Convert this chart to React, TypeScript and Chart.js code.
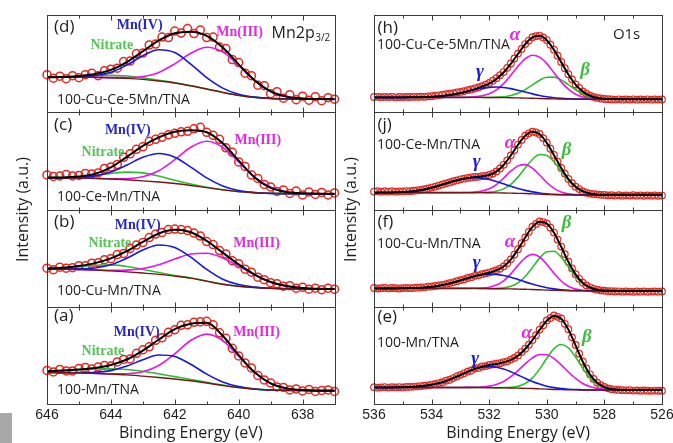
import React, { useEffect, useRef } from "react";
import { Chart, registerables } from "chart.js";

Chart.register(...registerables);

// ---------- axes / sampling ----------
const MN_TICKS = [646, 644, 642, 640, 638];
const O_TICKS = [536, 534, 532, 530, 528, 526];

const MN_E = [646, 645.5, 645, 644.5, 644, 643.5, 643, 642.5, 642, 641.5, 641, 640.5, 640, 639.5, 639, 638.5, 638, 637.5, 637];
const MN_PTS_E = [646, 645.8, 645.6, 645.4, 645.2, 645, 644.8, 644.6, 644.4, 644.2, 644, 643.8, 643.6, 643.4, 643.2, 643, 642.8, 642.6, 642.4, 642.2, 642, 641.8, 641.6, 641.4, 641.2, 641, 640.8, 640.6, 640.4, 640.2, 640, 639.8, 639.6, 639.4, 639.2, 639, 638.8, 638.6, 638.4, 638.2, 638, 637.8, 637.6, 637.4, 637.2, 637];
const O_E = [536, 535.75, 535.5, 535.25, 535, 534.75, 534.5, 534.25, 534, 533.75, 533.5, 533.25, 533, 532.75, 532.5, 532.25, 532, 531.75, 531.5, 531.25, 531, 530.75, 530.5, 530.25, 530, 529.75, 529.5, 529.25, 529, 528.75, 528.5, 528.25, 528, 527.75, 527.5, 527.25, 527, 526.75, 526.5, 526.25, 526];
const O_PTS_E = [536, 535.875, 535.75, 535.625, 535.5, 535.375, 535.25, 535.125, 535, 534.875, 534.75, 534.625, 534.5, 534.375, 534.25, 534.125, 534, 533.875, 533.75, 533.625, 533.5, 533.375, 533.25, 533.125, 533, 532.875, 532.75, 532.625, 532.5, 532.375, 532.25, 532.125, 532, 531.875, 531.75, 531.625, 531.5, 531.375, 531.25, 531.125, 531, 530.875, 530.75, 530.625, 530.5, 530.375, 530.25, 530.125, 530, 529.875, 529.75, 529.625, 529.5, 529.375, 529.25, 529.125, 529, 528.875, 528.75, 528.625, 528.5, 528.375, 528.25, 528.125, 528, 527.875, 527.75, 527.625, 527.5, 527.375, 527.25, 527.125, 527, 526.875, 526.75, 526.625, 526.5, 526.375, 526.25, 526.125, 526];

// ---------- Mn2p3/2 : (a) 100-Mn/TNA ----------
const A_PTS = [33.5, 32.0, 34.5, 33.0, 33.0, 35.5, 36.5, 35.0, 37.0, 38.5, 38.0, 42.0, 44.5, 45.0, 50.5, 54.0, 57.0, 63.5, 66.0, 71.5, 74.0, 78.5, 79.0, 81.5, 82.0, 82.5, 79.0, 71.0, 65.5, 55.5, 48.0, 41.0, 36.0, 28.5, 24.0, 21.0, 17.0, 16.5, 14.0, 15.0, 13.0, 14.5, 12.5, 13.5, 14.0, 12.5];
const A_FIT = [32.6, 33.4, 34.5, 36.0, 38.9, 44.4, 53.3, 64.3, 74.7, 80.0, 81.0, 68.0, 48.7, 31.6, 20.6, 15.6, 13.9, 13.3, 13.3];
const A_BG = [31.5, 31.3, 31, 30.5, 29.8, 29, 27.8, 26.5, 25, 23.2, 21, 18.5, 16.3, 14.8, 14, 13.6, 13.4, 13.3, 13.3];
const A_MN4 = [31.5, 31.3, 31.2, 31.5, 33.3, 37.8, 44.2, 48.8, 47.3, 39.6, 29.8, 22.0, 17.3, 15.0, 14, 13.6, 13.4, 13.3, 13.3];
const A_MN3 = [31.5, 31.3, 31, 30.5, 30.0, 30.2, 32.1, 38.4, 50.1, 63.3, 69.7, 63.3, 47.6, 31.4, 20.6, 15.6, 13.9, 13.3, 13.3];
const A_NIT = [32.6, 33.4, 34.3, 35.0, 35.2, 34.4, 32.6, 30.1, 27.3, 24.5, 21.6, 18.8, 16.4, 14.8, 14, 13.6, 13.4, 13.3, 13.3];

// ---------- (b) 100-Cu-Mn/TNA ----------
const B_PTS = [38.5, 37.0, 39.5, 38.5, 39.0, 41.0, 41.0, 43.5, 44.0, 47.0, 48.0, 52.0, 53.0, 58.0, 61.5, 64.0, 69.0, 72.5, 74.0, 77.0, 77.5, 77.0, 76.0, 73.5, 70.5, 65.0, 62.0, 56.0, 52.5, 46.0, 43.0, 37.5, 34.5, 29.5, 27.0, 24.0, 23.0, 20.5, 21.0, 18.5, 19.5, 17.5, 18.5, 17.0, 18.5, 17.5];
const B_FIT = [38.1, 38.8, 40.6, 43.5, 48.3, 55.4, 64.6, 73.1, 76.7, 74.3, 65.7, 54.0, 42.2, 32.1, 24.7, 20.6, 18.7, 17.9, 17.7];
const B_BG = [37.7, 37.5, 37.2, 36.6, 35.8, 34.8, 33.6, 32.3, 30.6, 28.5, 25.5, 22.5, 20.5, 19.2, 18.4, 18, 17.8, 17.7, 17.7];
const B_MN4 = [37.7, 37.6, 37.8, 38.6, 41.8, 48.3, 56.5, 61.6, 59.1, 49.5, 37.3, 27.5, 22.1, 19.6, 18.4, 18, 17.8, 17.7, 17.7];
const B_MN3 = [37.7, 37.5, 37.2, 36.7, 36.3, 36.5, 38.1, 42.0, 47.6, 52.6, 53.4, 48.7, 40.5, 31.7, 24.7, 20.6, 18.7, 17.9, 17.7];
const B_NIT = [38.1, 38.7, 40.0, 41.4, 41.8, 40.2, 37.2, 34.1, 31.2, 28.7, 25.5, 22.5, 20.5, 19.2, 18.4, 18, 17.8, 17.7, 17.7];

// ---------- (c) 100-Ce-Mn/TNA ----------
const C_PTS = [34.5, 33.0, 33.5, 35.0, 33.5, 34.0, 36.0, 35.5, 36.5, 41.0, 42.5, 45.0, 52.0, 55.5, 60.0, 62.5, 68.0, 70.0, 72.0, 74.5, 76.0, 77.5, 78.0, 80.5, 82.0, 77.0, 74.0, 70.0, 61.5, 57.0, 47.5, 43.0, 34.5, 31.0, 25.0, 22.5, 18.0, 19.5, 16.0, 18.5, 14.5, 17.5, 15.0, 17.0, 14.5, 16.5];
const C_FIT = [31.8, 32.0, 33.0, 35.5, 42.0, 52.5, 63.5, 72.0, 77.5, 79.0, 77.0, 66.0, 48.7, 32.0, 21.5, 17.5, 16.1, 15.8, 15.7];
const C_BG = [31.7, 31.6, 31.4, 31.0, 30.4, 29.6, 28.6, 27.4, 25.9, 24.0, 21.8, 19.6, 17.8, 16.7, 16.1, 15.8, 15.7, 15.7, 15.7];
const C_MN4 = [31.7, 31.7, 32.1, 33.5, 37.3, 44.3, 52.1, 55.9, 52.2, 42.3, 31.5, 23.5, 19.0, 17.0, 16.1, 15.8, 15.7, 15.7, 15.7];
const C_MN3 = [31.7, 31.6, 31.4, 31.0, 30.6, 30.7, 32.6, 38.7, 49.7, 62.1, 68.0, 62.1, 47.5, 32.4, 22.4, 17.7, 16.1, 15.7, 15.7];
const C_NIT = [31.8, 31.9, 32.5, 33.9, 35.9, 37.3, 36.5, 33.4, 29.2, 25.4, 22.2, 19.7, 17.8, 16.7, 16.1, 15.8, 15.7, 15.7, 15.7];

// ---------- (d) 100-Cu-Ce-5Mn/TNA ----------
const D_PTS = [37.5, 34.0, 36.0, 33.5, 36.5, 34.5, 37.5, 39.0, 36.5, 41.5, 43.0, 44.0, 50.5, 51.0, 58.5, 59.0, 67.0, 68.0, 75.0, 74.5, 81.0, 79.0, 83.5, 78.5, 82.0, 74.5, 75.0, 65.0, 63.5, 52.5, 49.5, 39.0, 36.5, 27.0, 26.5, 18.5, 20.5, 14.0, 17.5, 12.5, 16.0, 12.0, 15.5, 11.5, 14.5, 13.0];
const D_FIT = [35, 35.1, 36.2, 38.1, 42.3, 50.1, 60.8, 71.6, 78.8, 80.4, 76.1, 64.5, 47.8, 31.8, 20.9, 15.6, 13.7, 13.1, 13];
const D_BG = [35, 35, 35, 34.8, 34.4, 33.8, 32.8, 31.2, 29.2, 26.4, 23.2, 19.8, 16.8, 14.8, 13.8, 13.3, 13.1, 13.0, 13.0];
const D_MN4 = [35, 35, 35.4, 36.4, 39.8, 47.0, 56.4, 62.4, 59.5, 48.0, 34.5, 24.1, 18.0, 15.1, 13.8, 13.3, 13.1, 13, 13];
const D_MN3 = [35, 35, 35, 34.8, 34.5, 34.6, 35.7, 39.7, 48.3, 58.8, 64.8, 60.2, 46.6, 31.5, 20.9, 15.6, 13.7, 13.1, 13];
const D_NIT = [35, 35.1, 35.8, 36.5, 36.8, 36.1, 34.3, 31.9, 29.4, 26.4, 23.2, 19.8, 16.8, 14.8, 13.8, 13.3, 13.1, 13.0, 13.0];

// ---------- O1s : (e) 100-Mn/TNA ----------
const E_PTS = [16.8, 16.3, 16.6, 16.9, 16.4, 16.7, 16.6, 16.9, 16.5, 17.0, 17.0, 17.4, 17.6, 17.9, 18.3, 18.5, 19.4, 20.0, 20.9, 21.7, 23.3, 24.2, 25.9, 27.5, 29.1, 30.6, 32.3, 33.4, 35.3, 36.0, 37.4, 37.8, 38.9, 39.5, 40.2, 40.7, 41.8, 42.6, 44.3, 46.0, 48.5, 51.8, 55.2, 59.2, 63.9, 68.6, 74.2, 78.6, 83.4, 85.8, 88.3, 87.0, 85.4, 80.0, 74.6, 66.5, 58.9, 50.2, 42.5, 35.5, 29.6, 25.0, 21.3, 18.8, 17.0, 15.6, 14.8, 14.4, 14.0, 13.8, 13.6, 13.9, 13.4, 13.6, 13.2, 13.5, 13.3, 13.1, 13.4, 13.2, 13.3];
const E_FIT = [16.5, 16.5, 16.5, 16.6, 16.7, 16.9, 17.4, 18.1, 19.2, 20.8, 23.0, 25.8, 28.9, 32.1, 35.0, 37.2, 38.8, 40.0, 41.5, 44.0, 48.2, 54.9, 63.7, 73.9, 83.1, 87.8, 85.0, 74.2, 58.5, 42.1, 29.3, 21.1, 16.8, 14.9, 14.3, 14, 14, 14, 14, 14, 14];
const E_BG = [16.5, 16.5, 16.5, 16.5, 16.5, 16.5, 16.5, 16.5, 16.5, 16.5, 16.5, 16.5, 16.5, 16.5, 16.5, 16.4, 16.3, 16.2, 16.1, 16.0, 15.8, 15.6, 15.4, 15.1, 14.8, 14.5, 14.3, 14.2, 14.1, 14.0, 14, 14, 14, 14, 14, 14, 14, 14, 14, 14, 14];
const E_GAMMA = [16.5, 16.5, 16.5, 16.6, 16.7, 16.9, 17.4, 18.1, 19.2, 20.8, 23.0, 25.8, 28.9, 32.0, 34.8, 36.6, 37.3, 36.7, 34.9, 32.2, 28.9, 25.6, 22.5, 19.9, 17.8, 16.3, 15.3, 14.7, 14.4, 14.1, 14, 14, 14, 14, 14, 14, 14, 14, 14, 14, 14];
const E_ALPHA = [16.5, 16.5, 16.5, 16.5, 16.5, 16.5, 16.5, 16.5, 16.5, 16.5, 16.5, 16.5, 16.5, 16.6, 16.7, 17.0, 17.8, 19.5, 22.5, 27.2, 33.3, 40.1, 46.0, 49.4, 49.2, 45.3, 39.0, 31.9, 25.5, 20.5, 17.4, 15.6, 14.6, 14.2, 14.1, 14, 14, 14, 14, 14, 14];
const E_BETA = [16.5, 16.5, 16.5, 16.5, 16.5, 16.5, 16.5, 16.5, 16.5, 16.5, 16.5, 16.5, 16.5, 16.5, 16.5, 16.4, 16.3, 16.2, 16.3, 16.6, 17.6, 20.4, 26.0, 34.8, 45.7, 55.2, 59.3, 56.0, 46.8, 35.5, 25.9, 19.5, 16.2, 14.7, 14.2, 14, 14, 14, 14, 14, 14];

// ---------- (f) 100-Cu-Mn/TNA ----------
const F_PTS = [18.7, 18.2, 18.5, 18.9, 18.4, 18.7, 18.5, 18.2, 18.6, 18.8, 18.5, 18.9, 19.0, 19.3, 19.4, 20.0, 20.2, 20.7, 21.3, 21.9, 22.6, 23.6, 24.4, 25.5, 26.5, 27.3, 28.7, 29.5, 30.8, 31.3, 32.5, 33.3, 34.1, 35.2, 36.4, 38.0, 40.3, 43.5, 47.3, 52.0, 57.4, 63.4, 69.2, 74.7, 79.8, 82.6, 85.1, 84.5, 83.2, 78.9, 74.0, 67.0, 60.0, 52.5, 45.0, 38.2, 32.5, 27.9, 24.0, 21.3, 19.4, 17.9, 17.0, 16.3, 16.0, 15.6, 15.5, 15.2, 15.4, 15.0, 15.3, 15.1, 14.9, 15.2, 15.0, 15.3, 14.9, 15.1, 15.3, 15.0, 15.2];
const F_FIT = [18.3, 18.3, 18.3, 18.3, 18.4, 18.6, 18.8, 19.2, 19.9, 21.0, 22.4, 24.2, 26.3, 28.5, 30.6, 32.3, 33.9, 36.2, 40.1, 47.1, 57.2, 69.0, 79.6, 84.9, 83.0, 73.8, 59.8, 44.8, 32.3, 23.8, 19.2, 16.9, 16.1, 15.9, 15.8, 15.8, 15.8, 15.8, 15.8, 15.8, 15.8];
const F_BG = [18.3, 18.3, 18.3, 18.3, 18.3, 18.3, 18.3, 18.3, 18.3, 18.3, 18.3, 18.3, 18.3, 18.3, 18.3, 18.2, 18.1, 18.0, 17.9, 17.8, 17.6, 17.4, 17.2, 16.9, 16.6, 16.4, 16.2, 16.0, 15.9, 15.8, 15.8, 15.8, 15.8, 15.8, 15.8, 15.8, 15.8, 15.8, 15.8, 15.8, 15.8];
const F_GAMMA = [18.3, 18.3, 18.3, 18.3, 18.4, 18.6, 18.8, 19.2, 19.9, 21.0, 22.4, 24.2, 26.3, 28.5, 30.5, 31.9, 32.5, 32.3, 31.2, 29.5, 27.2, 24.8, 22.6, 20.6, 18.9, 17.8, 17.0, 16.4, 16.1, 15.9, 15.8, 15.8, 15.8, 15.8, 15.8, 15.8, 15.8, 15.8, 15.8, 15.8, 15.8];
const F_ALPHA = [18.3, 18.3, 18.3, 18.3, 18.3, 18.3, 18.3, 18.3, 18.3, 18.3, 18.3, 18.3, 18.3, 18.3, 18.4, 18.6, 19.5, 21.6, 25.9, 32.8, 41.3, 48.8, 52.2, 49.6, 42.4, 33.4, 25.7, 20.4, 17.6, 16.4, 16.0, 15.8, 15.8, 15.8, 15.8, 15.8, 15.8, 15.8, 15.8, 15.8, 15.8];
const F_BETA = [18.3, 18.3, 18.3, 18.3, 18.3, 18.3, 18.3, 18.3, 18.3, 18.3, 18.3, 18.3, 18.3, 18.3, 18.3, 18.2, 18.1, 18.3, 18.8, 20.4, 23.9, 30.2, 39.2, 48.5, 54.9, 55.4, 49.5, 40.0, 30.4, 23.1, 19.0, 16.9, 16.1, 15.9, 15.8, 15.8, 15.8, 15.8, 15.8, 15.8, 15.8];

// ---------- (j) 100-Ce-Mn/TNA ----------
const J_PTS = [17.9, 18.3, 17.8, 18.2, 17.9, 18.3, 17.8, 18.1, 18.0, 18.4, 18.3, 18.7, 19.0, 19.5, 20.2, 21.0, 21.9, 22.8, 23.9, 25.0, 26.1, 27.0, 28.2, 29.0, 30.1, 30.7, 31.5, 31.9, 32.4, 32.6, 33.2, 33.6, 34.5, 35.8, 38.0, 40.9, 44.6, 49.0, 54.0, 59.3, 64.8, 69.4, 73.7, 76.0, 77.6, 76.8, 75.3, 71.2, 66.7, 60.6, 54.4, 47.7, 41.5, 35.8, 30.4, 26.3, 22.8, 20.4, 18.1, 16.8, 15.9, 15.3, 15.0, 14.6, 14.5, 14.1, 14.3, 13.9, 14.2, 13.8, 14.1, 13.9, 14.2, 13.8, 14.0, 13.7, 14.1, 13.8, 14.0, 13.7, 13.9];
const J_FIT = [16.8, 16.9, 17.0, 17.1, 17.5, 18.0, 18.8, 20.0, 21.7, 23.7, 25.9, 28.1, 30.0, 31.4, 32.3, 33.1, 34.4, 37.8, 44.4, 53.9, 64.6, 73.5, 77.5, 75.1, 66.5, 54.2, 41.3, 30.2, 22.6, 18.0, 15.9, 15.0, 14.7, 14.6, 14.6, 14.6, 14.6, 14.6, 14.6, 14.6, 14.6];
const J_BG = [16.8, 16.8, 16.8, 16.8, 16.8, 16.8, 16.8, 16.8, 16.8, 16.8, 16.8, 16.8, 16.8, 16.8, 16.8, 16.8, 16.7, 16.6, 16.5, 16.3, 16.1, 15.9, 15.6, 15.3, 15.0, 14.8, 14.7, 14.6, 14.6, 14.6, 14.6, 14.6, 14.6, 14.6, 14.6, 14.6, 14.6, 14.6, 14.6, 14.6, 14.6];
const J_GAMMA = [16.8, 16.9, 17.0, 17.1, 17.5, 18.0, 18.8, 20.0, 21.7, 23.7, 25.9, 28.1, 30.0, 31.3, 31.8, 31.3, 29.9, 27.9, 25.6, 23.2, 21.0, 19.1, 17.6, 16.5, 15.7, 15.1, 14.9, 14.7, 14.6, 14.6, 14.6, 14.6, 14.6, 14.6, 14.6, 14.6, 14.6, 14.6, 14.6, 14.6, 14.6];
const J_ALPHA = [16.8, 16.8, 16.8, 16.8, 16.8, 16.8, 16.8, 16.8, 16.8, 16.8, 16.8, 16.8, 16.8, 16.9, 17.3, 18.4, 20.6, 24.9, 31.2, 38.2, 43.5, 44.8, 41.2, 34.4, 26.9, 21.1, 17.5, 15.6, 14.9, 14.6, 14.6, 14.6, 14.6, 14.6, 14.6, 14.6, 14.6, 14.6, 14.6, 14.6, 14.6];
const J_BETA = [16.8, 16.8, 16.8, 16.8, 16.8, 16.8, 16.8, 16.8, 16.8, 16.8, 16.8, 16.8, 16.8, 16.8, 16.8, 17.0, 17.3, 18.2, 20.6, 25.1, 32.3, 41.4, 49.9, 54.8, 53.9, 47.6, 38.3, 29.1, 22.3, 18.0, 15.9, 15.0, 14.7, 14.6, 14.6, 14.6, 14.6, 14.6, 14.6, 14.6, 14.6];

// ---------- (h) 100-Cu-Ce-5Mn/TNA ----------
const H_PTS = [15.2, 15.4, 15.0, 15.3, 15.1, 15.4, 14.9, 15.2, 15.1, 15.3, 15.2, 15.4, 15.3, 15.5, 15.4, 15.8, 16.0, 16.5, 16.9, 17.6, 18.0, 18.6, 19.1, 19.8, 20.3, 21.1, 22.0, 22.7, 23.7, 24.8, 26.1, 27.6, 29.2, 31.5, 34.0, 37.0, 40.1, 44.3, 48.6, 53.6, 58.5, 63.2, 68.0, 71.5, 74.8, 75.9, 76.5, 74.6, 72.0, 67.4, 62.4, 56.4, 50.2, 44.0, 37.9, 32.8, 27.8, 24.2, 20.8, 18.6, 16.6, 15.3, 14.3, 13.7, 13.2, 13.0, 12.8, 12.6, 12.9, 12.5, 12.8, 12.6, 12.9, 12.5, 12.8, 12.6, 12.9, 12.5, 12.8, 12.6, 12.7];
const H_FIT = [14.8, 14.8, 14.8, 14.8, 14.8, 14.9, 15.0, 15.1, 15.4, 15.9, 16.7, 17.8, 19.2, 21.0, 23.1, 25.5, 28.5, 33.2, 39.6, 48.2, 58.2, 67.8, 74.6, 76.2, 71.8, 62.2, 50.0, 37.7, 27.6, 20.6, 16.5, 14.4, 13.5, 13.1, 13.0, 13.0, 13.0, 13.0, 13.0, 13.0, 13.0];
const H_BG = [14.8, 14.8, 14.8, 14.8, 14.8, 14.8, 14.8, 14.8, 14.8, 14.8, 14.8, 14.8, 14.8, 14.8, 14.8, 14.8, 14.7, 14.7, 14.6, 14.5, 14.3, 14.1, 13.9, 13.7, 13.5, 13.3, 13.2, 13.1, 13.0, 13.0, 13.0, 13.0, 13.0, 13.0, 13.0, 13.0, 13.0, 13.0, 13.0, 13.0, 13.0];
const H_GAMMA = [14.8, 14.8, 14.8, 14.8, 14.8, 14.9, 15.0, 15.1, 15.4, 15.9, 16.7, 17.8, 19.2, 20.8, 22.5, 23.9, 24.8, 25.2, 24.7, 23.6, 22.0, 20.1, 18.3, 16.7, 15.4, 14.4, 13.8, 13.4, 13.2, 13.1, 13.0, 13.0, 13.0, 13.0, 13.0, 13.0, 13.0, 13.0, 13.0, 13.0, 13.0];
const H_ALPHA = [14.8, 14.8, 14.8, 14.8, 14.8, 14.8, 14.8, 14.8, 14.8, 14.8, 14.8, 14.8, 14.8, 15.0, 15.4, 16.4, 18.4, 22.4, 28.6, 36.9, 45.9, 53.3, 56.8, 55.0, 48.5, 39.4, 30.3, 23.0, 18.0, 15.2, 13.9, 13.3, 13.1, 13.0, 13.0, 13.0, 13.0, 13.0, 13.0, 13.0, 13.0];
const H_BETA = [14.8, 14.8, 14.8, 14.8, 14.8, 14.8, 14.8, 14.8, 14.8, 14.8, 14.8, 14.8, 14.8, 14.8, 14.8, 14.8, 14.7, 15.0, 15.5, 16.7, 18.9, 22.6, 27.3, 31.9, 34.9, 35.0, 32.3, 27.5, 22.4, 18.3, 15.6, 14.1, 13.4, 13.1, 13.0, 13.0, 13.0, 13.0, 13.0, 13.0, 13.0];

// ---------- styling ----------
const RED = "rgb(228,40,34)";
const BLACK = "#000";
const BROWN = "rgb(115,22,22)";
const BLUE = "rgb(22,22,225)";
const MAGENTA = "rgb(232,20,232)";
const GREEN = "rgb(45,190,45)";
const AXIS = "#3a3a3a";
const TXT = "#1e1e1e";

const LBL_BLUE = "rgb(40,40,200)";
const LBL_MAG = "rgb(228,40,228)";
const LBL_GREEN = "rgb(85,195,85)";

const F_PANEL = '17px "Open Sans", sans-serif';
const F_SAMPLE = '14px "Open Sans", sans-serif';
const F_SERIF = 'bold 14px "Liberation Serif", "Times New Roman", serif';
const F_GREEK = 'italic bold 19px "Liberation Serif", "Times New Roman", serif';
const F_BIG = '16px "Open Sans", sans-serif';

const Y_TITLE = "Intensity (a.u.)";
const X_TITLE = "Binding Energy (eV)";

type Label = { t: string; e: number; h: number; font: string; color: string; align?: CanvasTextAlign; sub?: string };
type Sub = { pts: number[]; fit: number[]; bg: number[]; comps: { v: number[]; color: string }[]; labels: Label[] };
type Panel = {
  ptsE: number[]; curveE: number[]; min: number; max: number; ticks: number[];
  subs: Sub[]; r: number; bw: number; pad: { left: number; right: number; top: number; bottom: number };
};

const mnLabels = (tag: string, sample: string, tagH: number, sampleH: number, m4: [number, number], nit: [number, number], m3: [number, number]): Label[] => [
  { t: tag, e: 645.78, h: tagH, font: F_PANEL, color: TXT, align: "left" },
  { t: sample, e: 645.69, h: sampleH, font: F_SAMPLE, color: TXT, align: "left" },
  { t: "Mn(IV)", e: m4[0], h: m4[1], font: F_SERIF, color: LBL_BLUE },
  { t: "Nitrate", e: nit[0], h: nit[1], font: F_SERIF, color: LBL_GREEN },
  { t: "Mn(III)", e: m3[0], h: m3[1], font: F_SERIF, color: LBL_MAG },
];

const oLabels = (tag: string, sample: string, tagH: number, sampleH: number, a: [number, number], b: [number, number], g: [number, number]): Label[] => [
  { t: tag, e: 535.88, h: tagH, font: F_PANEL, color: TXT, align: "left" },
  { t: sample, e: 535.9, h: sampleH, font: F_SAMPLE, color: TXT, align: "left" },
  { t: "α", e: a[0], h: a[1], font: F_GREEK, color: LBL_MAG },
  { t: "β", e: b[0], h: b[1], font: F_GREEK, color: "rgb(60,190,60)" },
  { t: "γ", e: g[0], h: g[1], font: F_GREEK, color: "rgb(30,30,200)" },
];

const MN_PANEL: Panel = {
  ptsE: MN_PTS_E, curveE: MN_E, min: 637, max: 646, ticks: MN_TICKS, r: 4.0, bw: 1.5,
  pad: { left: 47, right: 5, top: 15, bottom: 0 },
  subs: [
    { pts: A_PTS, fit: A_FIT, bg: A_BG, comps: [{ v: A_MN4, color: BLUE }, { v: A_MN3, color: MAGENTA }, { v: A_NIT, color: GREEN }],
      labels: mnLabels("(a)", "100-Mn/TNA", 88, 14, [643.19, 71], [644.25, 52], [639.44, 71]) },
    { pts: B_PTS, fit: B_FIT, bg: B_BG, comps: [{ v: B_MN4, color: BLUE }, { v: B_MN3, color: MAGENTA }, { v: B_NIT, color: GREEN }],
      labels: mnLabels("(b)", "100-Cu-Mn/TNA", 84, 16, [643.16, 81], [644.03, 63], [639.44, 63]) },
    { pts: C_PTS, fit: C_FIT, bg: C_BG, comps: [{ v: C_MN4, color: BLUE }, { v: C_MN3, color: MAGENTA }, { v: C_NIT, color: GREEN }],
      labels: mnLabels("(c)", "100-Ce-Mn/TNA", 84, 12, [643.47, 79], [644.25, 57], [639.4, 69]) },
    { pts: D_PTS, fit: D_FIT, bg: D_BG, comps: [{ v: D_MN4, color: BLUE }, { v: D_MN3, color: MAGENTA }, { v: D_NIT, color: GREEN }],
      labels: [
        ...mnLabels("(d)", "100-Cu-Ce-5Mn/TNA", 85, 12, [643.1, 87], [643.97, 67], [639.97, 80]),
        { t: "Mn2p", e: 638.97, h: 79, font: F_BIG, color: TXT, align: "left", sub: "3/2" },
      ] },
  ],
};

const O_PANEL: Panel = {
  ptsE: O_PTS_E, curveE: O_E, min: 526, max: 536, ticks: O_TICKS, r: 3.3, bw: 1.2,
  pad: { left: 34, right: 11, top: 15, bottom: 0 },
  subs: [
    { pts: E_PTS, fit: E_FIT, bg: E_BG, comps: [{ v: E_GAMMA, color: BLUE }, { v: E_ALPHA, color: MAGENTA }, { v: E_BETA, color: GREEN }],
      labels: oLabels("(e)", "100-Mn/TNA", 87, 61, [530.7, 71], [528.61, 67], [532.49, 45]) },
    { pts: F_PTS, fit: F_FIT, bg: F_BG, comps: [{ v: F_GAMMA, color: BLUE }, { v: F_ALPHA, color: MAGENTA }, { v: F_BETA, color: GREEN }],
      labels: oLabels("(f)", "100-Cu-Mn/TNA", 84, 63, [531.28, 64], [529.31, 83], [532.43, 44]) },
    { pts: J_PTS, fit: J_FIT, bg: J_BG, comps: [{ v: J_GAMMA, color: BLUE }, { v: J_ALPHA, color: MAGENTA }, { v: J_BETA, color: GREEN }],
      labels: oLabels("(j)", "100-Ce-Mn/TNA", 84, 64, [531.28, 66], [529.31, 59], [532.43, 47]) },
    { pts: H_PTS, fit: H_FIT, bg: H_BG, comps: [{ v: H_GAMMA, color: BLUE }, { v: H_ALPHA, color: MAGENTA }, { v: H_BETA, color: GREEN }],
      labels: [
        ...oLabels("(h)", "100-Cu-Ce-5Mn/TNA", 84, 67, [531.1, 77], [528.67, 42], [532.32, 40]),
        { t: "O1s", e: 527.23, h: 77, font: '15px "Open Sans", sans-serif', color: TXT },
      ] },
  ],
};

function decorPlugin(p: Panel, titleOffset: number) {
  return {
    id: "decor",
    afterDatasetsDraw(chart: any) {
      const { ctx, chartArea: ca } = chart;
      const xs = chart.scales.x;
      ctx.save();
      p.subs.forEach((s, i) => {
        const ys = chart.scales["y" + i];
        const top = Math.round(ys.top) + 0.5;
        const bot = Math.round(ys.bottom) + 0.5;
        const l = Math.round(ca.left) + 0.5;
        const r = Math.round(ca.right) + 0.5;
        ctx.strokeStyle = AXIS;
        ctx.lineWidth = 1;
        ctx.strokeRect(l, top, r - l, bot - top);
        ctx.beginPath();
        for (let v = p.min; v <= p.max; v++) {
          const x = Math.round(xs.getPixelForValue(v)) + 0.5;
          const len = v % 2 === 0 ? 5 : 3;
          ctx.moveTo(x, top);
          ctx.lineTo(x, top + len);
          ctx.moveTo(x, bot);
          ctx.lineTo(x, bot - len);
        }
        ctx.stroke();
        s.labels.forEach((lb) => {
          const x = xs.getPixelForValue(lb.e);
          const y = ys.getPixelForValue(lb.h);
          ctx.font = lb.font;
          ctx.fillStyle = lb.color;
          ctx.textAlign = lb.align || "center";
          ctx.textBaseline = "middle";
          ctx.fillText(lb.t, x, y);
          if (lb.sub) {
            const w = ctx.measureText(lb.t).width;
            ctx.font = '10px "Open Sans", sans-serif';
            ctx.textAlign = "left";
            ctx.fillText(lb.sub, x + w + 0.5, y + 5);
          }
        });
      });
      ctx.translate(ca.left - titleOffset, (ca.top + ca.bottom) / 2);
      ctx.rotate(-Math.PI / 2);
      ctx.font = F_BIG;
      ctx.fillStyle = TXT;
      ctx.textAlign = "center";
      ctx.textBaseline = "middle";
      ctx.fillText(Y_TITLE, 0, 0);
      ctx.restore();
    },
  };
}

function buildConfig(p: Panel, titleOffset: number): any {
  const datasets: any[] = [];
  p.subs.forEach((s, i) => {
    const yAxisID = "y" + i;
    const line = (v: number[], color: string, w: number) => ({
      data: v.map((y, j) => ({ x: p.curveE[j], y })),
      xAxisID: "x",
      yAxisID,
      borderColor: color,
      borderWidth: w,
      pointRadius: 0,
      pointHoverRadius: 0,
      cubicInterpolationMode: "monotone",
      fill: false,
      clip: false,
    });
    datasets.push(line(s.fit, BLACK, 2));
    datasets.push(line(s.bg, BROWN, 1.4));
    s.comps.forEach((c) => datasets.push(line(c.v, c.color, 1.6)));
    datasets.push({
      data: s.pts.map((y, j) => ({ x: p.ptsE[j], y })),
      xAxisID: "x",
      yAxisID,
      showLine: false,
      pointStyle: "circle",
      pointRadius: p.r,
      pointHoverRadius: p.r,
      pointBorderWidth: p.bw,
      pointBorderColor: RED,
      pointBackgroundColor: "rgba(0,0,0,0)",
      borderColor: RED,
      clip: false,
    });
  });

  const scales: any = {
    x: {
      type: "linear",
      position: "bottom",
      min: p.min,
      max: p.max,
      reverse: true,
      afterBuildTicks: (ax: any) => {
        ax.ticks = p.ticks.map((v) => ({ value: v }));
      },
      afterFit: (ax: any) => {
        ax.height = 39;
        ax.paddingLeft = 0;
        ax.paddingRight = 0;
      },
      grid: { display: false, drawTicks: false, tickLength: 0 },
      border: { display: false },
      ticks: {
        font: { family: '"Liberation Sans", Arial, sans-serif', size: 14 },
        color: TXT,
        padding: 3,
        maxRotation: 0,
        autoSkip: false,
      },
      title: {
        display: true,
        text: X_TITLE,
        font: { family: '"Open Sans", sans-serif', size: 16 },
        color: TXT,
        padding: { top: 0, bottom: 0 },
      },
    },
  };
  p.subs.forEach((_, i) => {
    scales["y" + i] = {
      type: "linear",
      position: "left",
      stack: "panel",
      stackWeight: 1,
      min: 0,
      max: 97,
      display: false,
    };
  });

  return {
    type: "line",
    data: { datasets },
    options: {
      responsive: false,
      maintainAspectRatio: false,
      animation: false,
      events: [],
      layout: { padding: p.pad },
      plugins: { legend: { display: false }, tooltip: { enabled: false }, title: { display: false } },
      scales,
    },
    plugins: [decorPlugin(p, titleOffset)],
  };
}

export default function App() {
  const leftRef = useRef<HTMLCanvasElement>(null);
  const rightRef = useRef<HTMLCanvasElement>(null);

  useEffect(() => {
    const c1 = new Chart(leftRef.current as HTMLCanvasElement, buildConfig(MN_PANEL, 24));
    const c2 = new Chart(rightRef.current as HTMLCanvasElement, buildConfig(O_PANEL, 23));
    return () => {
      c1.destroy();
      c2.destroy();
    };
  }, []);

  return (
    <div style={{ position: "absolute", left: 0, top: 0, width: 673, height: 443, background: "#fff", overflow: "hidden" }}>
      <canvas ref={leftRef} width={340} height={443} style={{ position: "absolute", left: 0, top: 0, width: 340, height: 443 }} />
      <canvas ref={rightRef} width={333} height={443} style={{ position: "absolute", left: 340, top: 0, width: 333, height: 443 }} />
      <div style={{ position: "absolute", left: 0, top: 413, width: 12, height: 30, background: "#a8a8a8" }} />
    </div>
  );
}
